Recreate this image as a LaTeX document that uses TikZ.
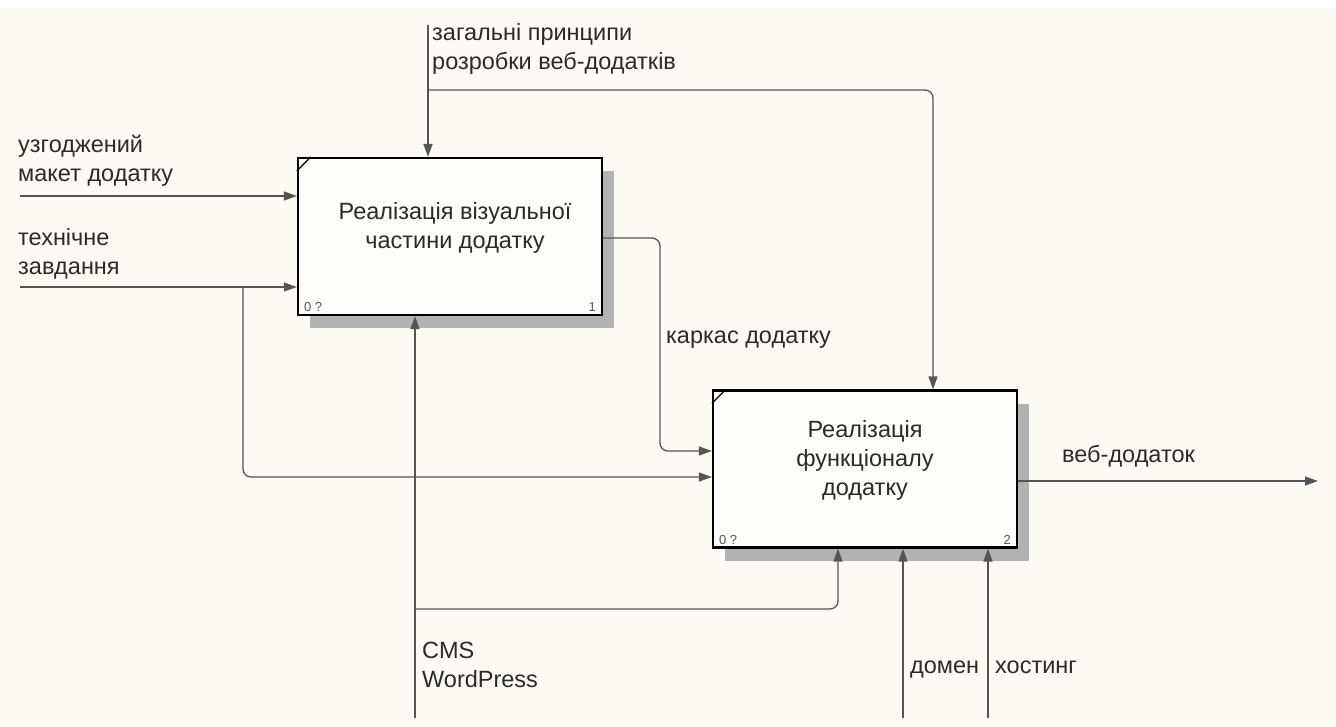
\documentclass[tikz,border=0pt]{standalone}
\usepackage{fontspec}
\setmainfont{Liberation Sans}
\usetikzlibrary{arrows.meta,calc,shadows}
\definecolor{paper}{HTML}{FDFAF4}
\definecolor{boxfill}{HTML}{FFFDF9}
\definecolor{ink}{HTML}{2A2A2A}
\definecolor{wire}{HTML}{555555}
\definecolor{shade}{HTML}{B2B2B2}

\begin{document}
\begin{tikzpicture}[x=1pt,y=-1pt,
  func/.style={draw=black,line width=2.2pt,fill=boxfill,minimum width=304pt,minimum height=157pt,inner sep=0pt,
    drop shadow={shadow xshift=12pt,shadow yshift=-13pt,fill=shade,opacity=1}},
  title/.style={text=ink,font=\fontsize{23.5}{29}\selectfont,align=center,inner sep=0pt},
  flow/.style={draw=wire,line width=1.3pt,-{Triangle[length=13pt,width=9pt]},rounded corners=8pt},
  lbl/.style={text=ink,font=\fontsize{23.5}{28.5}\selectfont,align=left,anchor=base west,inner sep=0pt},
  tag/.style={text=wire,font=\fontsize{13}{15}\selectfont,inner sep=0pt}]

\useasboundingbox (0,0) rectangle (1336,726);
\fill[paper] (0,0) rectangle (1336,726);
\fill[white] (0,0) rectangle (1336,8);

\node[func] (A) at (450,236.5) {};
\node[func] (B) at (865,469) {};
\node[title] (At) at ($(A.center)+(5,-9)$) {Реалізація візуальної\\частини додатку};
\node[title] (Bt) at ($(B.center)+(0,-9)$) {Реалізація\\функціоналу\\додатку};

\foreach \b/\n in {A/1,B/2}{
  \draw[line width=1.2pt] ($(\b.north west)+(0,14)$) -- ($(\b.north west)+(14,0)$);
  \node[tag,anchor=south west] (\b-ref) at ($(\b.south west)+(7,-4)$) {0 ?};
  \node[tag,anchor=south east] (\b-num) at ($(\b.south east)+(-7,-4)$) {\n};
}

\coordinate (c0) at (428,25);
\coordinate (cb) at (428,90);
\coordinate (i1) at (20,196);
\coordinate (i2) at (20,287);
\coordinate (ib) at (243,287);
\coordinate (ok) at (660,451);
\coordinate (out) at (1318,481);
\coordinate (m0) at (415,718);
\coordinate (mb) at (415,609);
\coordinate (d0) at (903,718);
\coordinate (h0) at (988,718);

\draw[flow] (c0) -- (c0 |- A.north);
\draw[flow] (cb) -| ($(B.north)+(68,0)$);
\draw[flow] (i1) -- (i1 -| A.west);
\draw[flow] (i2) -- (i2 -| A.west);
\draw[flow] (ib) |- ($(B.west)+(0,8)$);
\draw[flow] ($(A.east)+(0,1.5)$) -| (ok) -- (ok -| B.west);
\draw[flow] ($(B.east)+(0,12)$) -- (out);
\draw[flow] (m0) -- (m0 |- A.south);
\draw[flow] (mb) -| ($(B.south)+(-27,0)$);
\draw[flow] (d0) -- (d0 |- B.south);
\draw[flow] (h0) -- (h0 |- B.south);

\node[lbl] (l-gen) at (432,69) {загальні принципи\\розробки веб-додатків};
\node[lbl] (l-mak) at (18,181) {узгоджений\\макет додатку};
\node[lbl] (l-tz) at (18,274) {технічне\\завдання};
\node[lbl] (l-kar) at (666,343) {каркас додатку};
\node[lbl] (l-web) at (1062,462) {веб-додаток};
\node[lbl] (l-cms) at (422,687) {CMS\\WordPress};
\node[lbl] (l-dom) at (910,673) {домен};
\node[lbl] (l-host) at (995,673) {хостинг};
\end{tikzpicture}
\end{document}
